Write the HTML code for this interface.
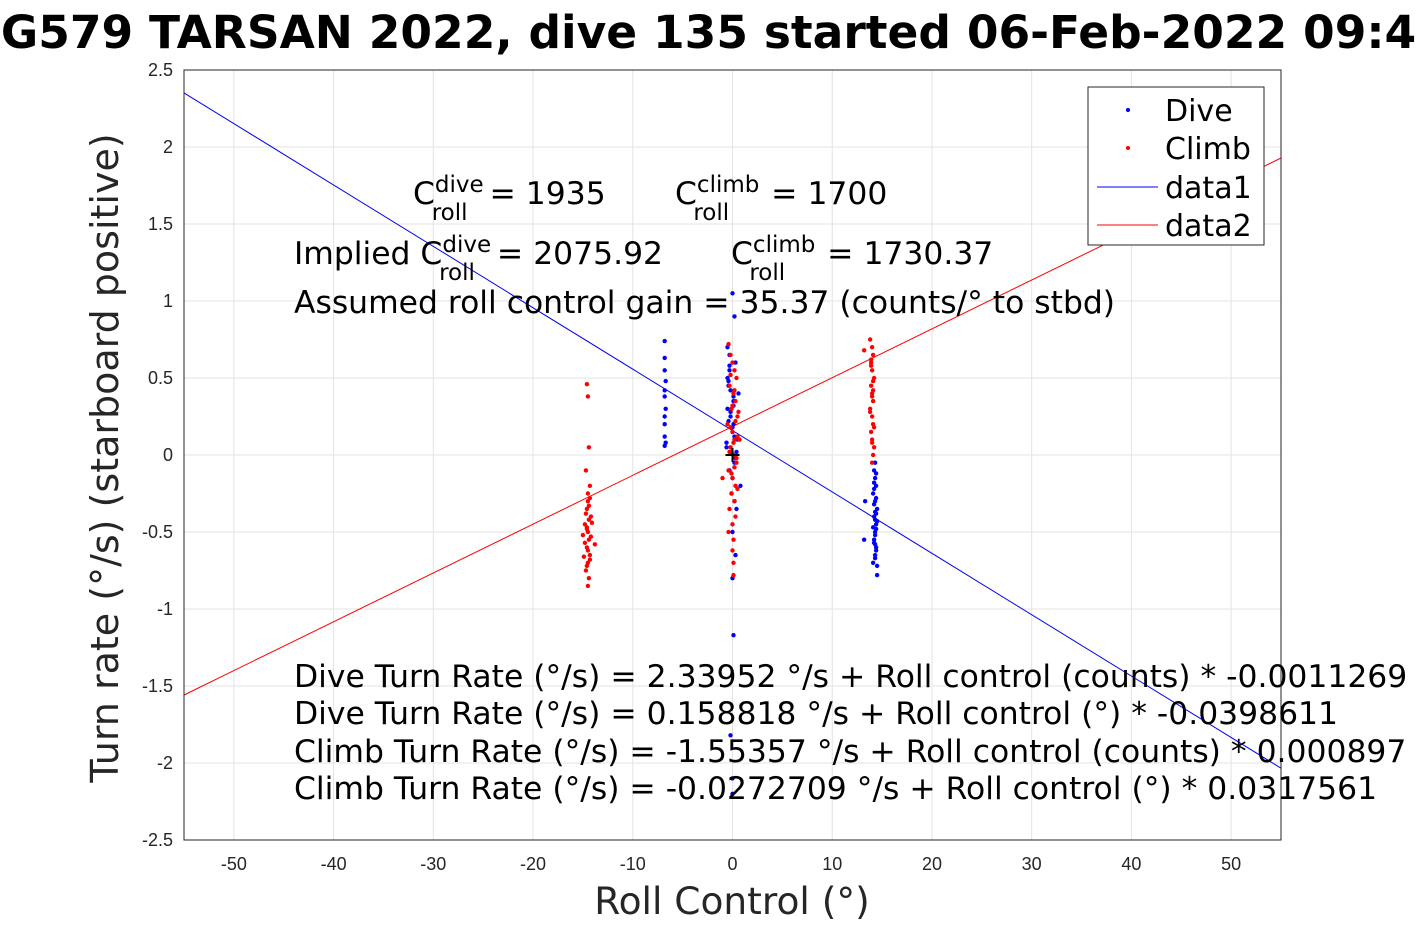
<!DOCTYPE html>
<html><head><meta charset="utf-8"><style>
html,body{margin:0;padding:0;background:#fff;overflow:hidden;}
svg{display:block;font-family:"Liberation Sans","DejaVu Sans",sans-serif;}
</style></head><body>
<svg id="chart" width="1417" height="945" viewBox="0 0 1417 945">
<text x="708" y="48" text-anchor="middle" font-size="45.5" font-weight="bold" font-family="DejaVu Sans, sans-serif">SG579 TARSAN 2022, dive 135 started 06-Feb-2022 09:42</text>
<g id="grid"></g>
<g id="axes"></g>
<g id="marks"></g>
<rect x="184" y="70" width="1097" height="770" fill="none" stroke="#262626" stroke-width="1"/>
<g font-family="DejaVu Sans, sans-serif" font-size="31.4">
<text x="413" y="204">C<tspan font-size="23" dy="-12">dive</tspan><tspan font-size="23" dx="-52" dy="28">roll</tspan><tspan dx="22" dy="-16">= 1935</tspan></text>
<text x="675" y="204">C<tspan font-size="23" dy="-12">climb</tspan><tspan font-size="23" dx="-66" dy="28">roll</tspan><tspan dx="42" dy="-16">= 1700</tspan></text>
<text x="294" y="264">Implied C<tspan font-size="23" dy="-12">dive</tspan><tspan font-size="23" dx="-52" dy="28">roll</tspan><tspan dx="22" dy="-16">= 2075.92</tspan></text>
<text x="731" y="264">C<tspan font-size="23" dy="-12">climb</tspan><tspan font-size="23" dx="-66" dy="28">roll</tspan><tspan dx="42" dy="-16">= 1730.37</tspan></text>
<text x="294" y="313">Assumed roll control gain = 35.37 (counts/° to stbd)</text>
<text x="294" y="687">Dive Turn Rate (°/s) = 2.33952 °/s + Roll control (counts) * -0.0011269</text>
<text x="294" y="724">Dive Turn Rate (°/s) = 0.158818 °/s + Roll control (°) * -0.0398611</text>
<text x="294" y="762">Climb Turn Rate (°/s) = -1.55357 °/s + Roll control (counts) * 0.000897</text>
<text x="294" y="799">Climb Turn Rate (°/s) = -0.0272709 °/s + Roll control (°) * 0.0317561</text>
</g>
<text x="732" y="914" text-anchor="middle" font-size="37.5" font-family="DejaVu Sans, sans-serif" fill="#262626">Roll Control (°)</text>
<text transform="translate(118,458) rotate(-90)" text-anchor="middle" font-size="38" font-family="DejaVu Sans, sans-serif" fill="#262626">Turn rate (°/s) (starboard positive)</text>
<g font-family="DejaVu Sans, sans-serif" font-size="30">
<rect x="1088" y="87" width="176" height="158" fill="#fff" stroke="#262626"/>
<circle cx="1128" cy="110" r="2" fill="#00f"/>
<text x="1165" y="121">Dive</text>
<circle cx="1128" cy="148" r="2" fill="#f00"/>
<text x="1165" y="159">Climb</text>
<line x1="1097" y1="187" x2="1158" y2="187" stroke="#00f"/>
<text x="1165" y="198">data1</text>
<line x1="1097" y1="225" x2="1158" y2="225" stroke="#f00"/>
<text x="1165" y="236">data2</text>
</g>
</svg>
<script>
const xTicks = [-50,-40,-30,-20,-10,0,10,20,30,40,50];
const yTicks = [-2.5,-2,-1.5,-1,-0.5,0,0.5,1,1.5,2,2.5];
const diveFit = [0.158818, -0.0398611];
const climbFit = [0.185, 0.0317];
const diveX = [-6.8,-6.8,-6.8,-6.7,-6.8,-6.8,-6.7,-6.8,-6.8,-6.8,-6.7,-6.8,
 -0.5,-0.3,0,0.2,-0.4,0.1,0.3,-0.2,0,0.5,-0.6,0.2,0,-0.1,0.4,-0.3,0.1,0.8,-0.5,0,0.3,0.6,0,0.1,-0.2,0,0,
 -0.3,-0.5,-0.2,0.1,-0.4,0.2,-0.1,0.3,-0.6,0,-0.2,0.1,-0.4,0.4,-0.3,0.2,
 14.2,14.3,14.4,14.1,14.3,14.5,14.2,14.4,14.3,14.2,14.4,14.3,14.1,14.5,14.3,14.2,14.4,14.3,13.3,13.2,14.3,14.4,
 14.2,14.4,14.3,14.5,14.1,14.3,14.2,14.4,14.3,14.5,14.2,14.4];
const diveY = [0.74,0.63,0.55,0.48,0.42,0.38,0.3,0.25,0.2,0.12,0.08,0.06,
 0.7,0.55,1.05,0.9,0.45,0.35,0.6,0.25,0.15,0.1,0.05,-0.05,-0.15,-0.25,-0.35,-0.1,0.2,-0.2,0.3,-0.5,-0.65,0.4,-0.8,-1.17,-1.82,-2.1,-2.2,
 0.65,0.5,0.42,0.32,0.22,0.12,0.02,-0.02,0.08,0.18,0.28,0.38,0.48,0.02,0.58,-0.3,
 -0.1,-0.15,-0.2,-0.25,-0.3,-0.35,-0.4,-0.45,-0.5,-0.55,-0.6,-0.65,-0.7,-0.78,-0.42,-0.32,-0.48,-0.58,-0.3,-0.55,-0.05,-0.38,
 -0.22,-0.28,-0.37,-0.43,-0.47,-0.52,-0.57,-0.62,-0.67,-0.72,-0.18,-0.12];
const climbX = [-14.6,-14.5,-14.4,-14.7,-14.3,-14.5,-14.6,-14.2,-14.8,-14.5,-14.4,-14.6,-14.3,-14.5,-14.7,-14.4,-14.5,-14.6,-13.8,-14.5,-15,
 -14.3,-14.7,-14.4,-14.6,-14.2,-14.8,-14.5,-14.3,-14.6,-14.4,-14.1,-14.9,
 -0.4,-0.2,0,0.2,0.4,-0.3,0.1,0.3,-0.1,0.5,-0.5,0,0.2,-0.2,0.1,0.4,-0.4,0,0.3,-0.1,0.2,-0.3,0,0.1,-1,0.7,0,0.1,
 0.3,-0.2,0.5,0.1,-0.3,0.4,0.2,-0.1,0.6,0,0.3,-0.4,0.2,0.5,-0.2,0.1,
 13.8,14,14.1,13.9,14,14.2,13.9,14,14.1,13.8,14,14.1,13.9,14,14.2,13.2,14,14.1,
 13.9,14.1,14,13.8,14.2,14,13.9,14.1];
const climbY = [0.46,0.38,0.05,-0.1,-0.2,-0.3,-0.35,-0.4,-0.45,-0.5,-0.55,-0.6,-0.65,-0.7,-0.75,-0.8,-0.85,-0.48,-0.58,-0.25,-0.52,
 -0.28,-0.38,-0.42,-0.47,-0.53,-0.57,-0.62,-0.68,-0.72,-0.33,-0.44,-0.66,
 0.72,0.65,0.6,0.55,0.5,0.45,0.4,0.35,0.3,0.25,0.2,0.15,0.1,0.05,0,-0.05,-0.1,-0.15,-0.2,-0.25,-0.3,-0.35,-0.45,-0.55,-0.15,0.1,-0.62,-0.78,
 0.22,0.18,0.12,0.08,0.02,-0.02,-0.08,-0.12,0.28,0.32,-0.4,-0.5,0.42,-0.22,0.52,-0.7,
 0.75,0.7,0.65,0.6,0.55,0.5,0.45,0.4,0.35,0.3,0.25,0.2,0.15,0.1,0.05,0.68,-0.05,0.0,
 0.58,0.48,0.38,0.28,0.18,0.08,0.62,0.42];
const NS="http://www.w3.org/2000/svg";
const X0=184,X1=1281,Y0=840,Y1=70;
const sx=v=>X0+(v+55)/110*(X1-X0);
const sy=v=>Y0-(v+2.5)/5*(Y0-Y1);
function mk(tag,attrs,parent){const e=document.createElementNS(NS,tag);for(const k in attrs)e.setAttribute(k,attrs[k]);parent.appendChild(e);return e;}
const grid=document.getElementById('grid'),axes=document.getElementById('axes'),marks=document.getElementById('marks');
xTicks.forEach(t=>{
 const l=mk('line',{x1:sx(t),x2:sx(t),y1:Y1,y2:Y0,stroke:'#e3e3e3'},grid);
 
 
 const tx=mk('text',{x:sx(t),y:870,'text-anchor':'middle','font-size':'18',fill:'#262626'},axes);
 tx.textContent=t;
 
 
});
yTicks.forEach(t=>{
 const l=mk('line',{x1:X0,x2:X1,y1:sy(t),y2:sy(t),stroke:'#e3e3e3'},grid);
 
 
 const tx=mk('text',{x:173,y:sy(t)+6,'text-anchor':'end','font-size':'18',fill:'#262626'},axes);
 tx.textContent=t;
 
 
});
const l1=mk('line',{x1:sx(-55),y1:sy(diveFit[0]+diveFit[1]*-55),x2:sx(55),y2:sy(diveFit[0]+diveFit[1]*55),stroke:'#00f'},marks);


const l2=mk('line',{x1:sx(-55),y1:sy(climbFit[0]+climbFit[1]*-55),x2:sx(55),y2:sy(climbFit[0]+climbFit[1]*55),stroke:'#f00'},marks);


diveX.forEach((x,i)=>{
 const c=mk('circle',{cx:sx(x),cy:sy(diveY[i]),r:2.2,fill:'#00f'},marks);
 
 
});
climbX.forEach((x,i)=>{
 const c=mk('circle',{cx:sx(x),cy:sy(climbY[i]),r:2.2,fill:'#f00'},marks);
 
 
});
const p=mk('path',{d:`M${sx(0)-7},${sy(0)}h14M${sx(0)},${sy(0)-7}v14`,stroke:'#000','stroke-width':2},marks);


</script>
</body></html>
